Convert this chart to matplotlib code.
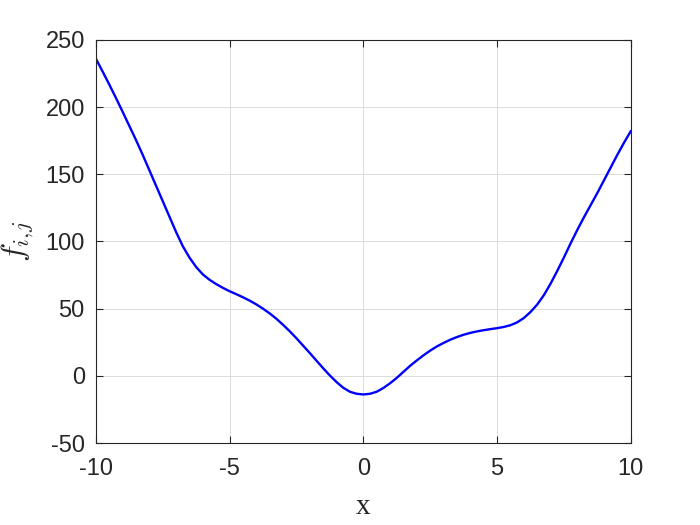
import matplotlib
matplotlib.use("Agg")
import matplotlib.pyplot as plt

x_vals = [-10, -9.75, -9.5, -9.25, -9, -8.75, -8.5, -8.25, -8, -7.75, -7.5, -7.25,
          -7, -6.75, -6.5, -6.25, -6, -5.75, -5.5, -5.25, -5, -4.75, -4.5, -4.25,
          -4, -3.75, -3.5, -3.25, -3, -2.75, -2.5, -2.25, -2, -1.75, -1.5, -1.25,
          -1, -0.75, -0.5, -0.25, 0, 0.25, 0.5, 0.75, 1, 1.25, 1.5, 1.75,
          2, 2.25, 2.5, 2.75, 3, 3.25, 3.5, 3.75, 4, 4.25, 4.5, 4.75,
          5, 5.25, 5.5, 5.75, 6, 6.25, 6.5, 6.75, 7, 7.25, 7.5, 7.75,
          8, 8.25, 8.5, 8.75, 9, 9.25, 9.5, 9.75, 10]
f_vals = [236, 226.5, 216.8, 206.8, 196.5, 186, 175.5, 164.5, 153, 141.5, 130, 118.5,
          107, 96.5, 88, 81, 75.5, 71.5, 68.3, 65.5, 63, 60.8, 58.5, 56,
          53.2, 50, 46.5, 42.5, 38, 33.2, 28, 22.5, 17, 11.3, 5.7, 0.3,
          -4.6, -8.8, -11.8, -13.3, -13.8, -13.3, -11.8, -9, -5.5, -1.5, 3, 7.5,
          11.5, 15.3, 18.8, 21.9, 24.5, 26.9, 28.9, 30.6, 32, 33.1, 34, 34.8,
          35.5, 36.4, 37.7, 39.8, 43, 47.5, 53, 60, 68.5, 78, 88, 98.5,
          108.5, 118, 127, 136, 145.5, 155, 164.5, 173.5, 182]
x_ticks = [-10, -5, 0, 5, 10]
y_ticks = [-50, 0, 50, 100, 150, 200, 250]

plt.rcParams['font.family'] = ['Liberation Sans', 'DejaVu Sans']
plt.rcParams['mathtext.fontset'] = 'cm'
plt.rcParams['axes.unicode_minus'] = False

fig = plt.figure(figsize=(7, 5.25), dpi=100)
ax = fig.add_axes([0.137, 0.156, 0.764, 0.768])
ax.plot(x_vals, f_vals, color=(0, 0, 1), linewidth=1.7)
ax.set_xlim(-10, 10)
ax.set_ylim(-50, 250)
ax.set_xticks(x_ticks)
ax.set_yticks(y_ticks)
ax.grid(True, color='#dcdcdc', linewidth=0.7)
ax.set_axisbelow(True)
ax.tick_params(direction='in', top=True, right=True, length=5, width=0.8,
               labelsize=17, colors='#262626')
ax.tick_params(axis='x', pad=11)
ax.tick_params(axis='y', pad=8)
for sp in ax.spines.values():
    sp.set_color('#262626')
    sp.set_linewidth(0.8)
ax.set_xlabel('x', fontsize=21, family='Liberation Serif', color='#262626', labelpad=10)
ax.set_ylabel(r'$f_{i,\!j}$', fontsize=23, color='#262626')
ax.yaxis.set_label_coords(-0.112, 0.5)
fig.savefig('out.png', dpi=100)
